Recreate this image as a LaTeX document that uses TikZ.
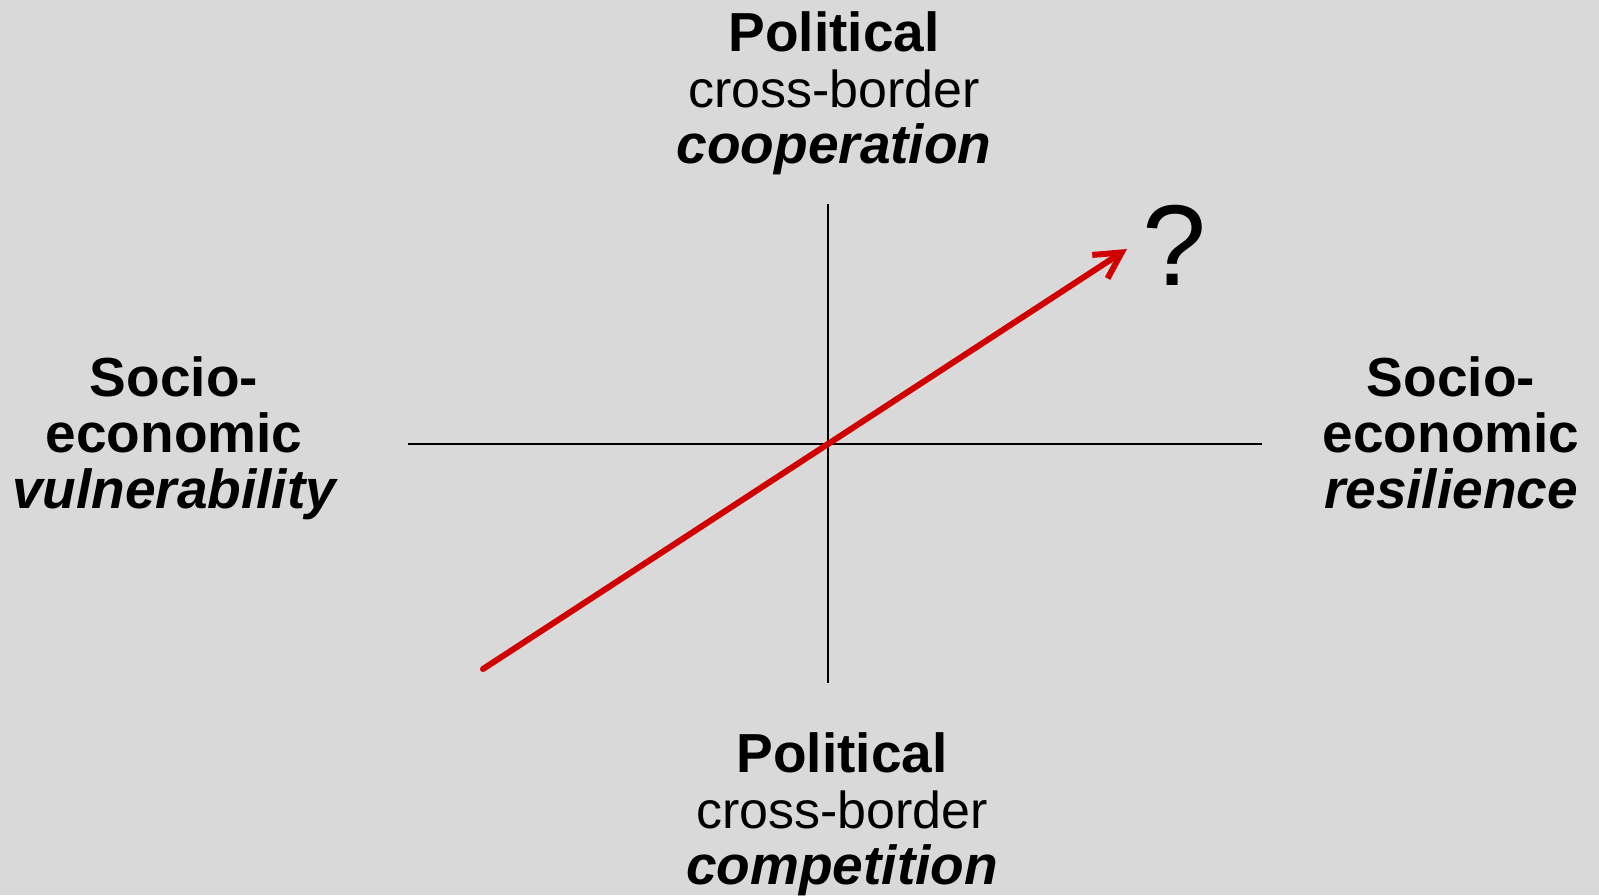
\documentclass[tikz,border=0pt]{standalone}
\usepackage{fontspec}
\setmainfont{Liberation Sans}
\usetikzlibrary{arrows.meta}

\definecolor{bggray}{RGB}{217,217,217}
\definecolor{arrowred}{RGB}{208,0,0}

\tikzset{
  line/.style={font=\fontsize{52}{60}\selectfont, text height=40pt, text depth=12pt, inner sep=0pt},
  head/.style={line, font=\fontsize{55}{60}\selectfont\bfseries},
  tail/.style={line, font=\fontsize{55}{60}\selectfont\bfseries\itshape},
  axis/.style={draw=black, line width=1.8pt},
}

\begin{document}
\begin{tikzpicture}[x=1pt,y=-1pt,node distance=56pt]
  \fill[bggray] (0,0) rectangle (1599,895);
  \useasboundingbox (0,0) rectangle (1599,895);

  % axes
  \coordinate (o) at (828,444);
  \coordinate (west) at (408,444);
  \coordinate (east) at (1262,444);
  \coordinate (north) at (828,204);
  \coordinate (south) at (828,683);
  \draw[axis] (west) -- (east);
  \draw[axis] (north) -- (south);

  % top
  \node (t1) [head] at (834,37) {Political};
  \node (t2) [line, below of=t1] {cross-border};
  \node (t3) [tail, below of=t2] {cooperation};

  % bottom
  \node (b1) [head] at (842,758) {Political};
  \node (b2) [line, below of=b1] {cross-border};
  \node (b3) [tail, below of=b2] {competition};

  % left
  \node (l1) [head] at (174,382) {Socio-};
  \node (l2) [head, below of=l1] {economic};
  \node (l3) [tail, below of=l2] {vulnerability};

  % right
  \node (r1) [head] at (1451,382) {Socio-};
  \node (r2) [head, below of=r1] {economic};
  \node (r3) [tail, below of=r2] {resilience};

  % trend
  \coordinate (start) at (483,669);
  \coordinate (tip) at (1127,249);
  \node (q) at (1174,245) {\fontsize{115}{120}\selectfont ?};
  \draw[arrowred, line width=6pt, line cap=round, -{Straight Barb[length=26pt,width=28pt]}] (start) -- (tip);
\end{tikzpicture}
\end{document}
